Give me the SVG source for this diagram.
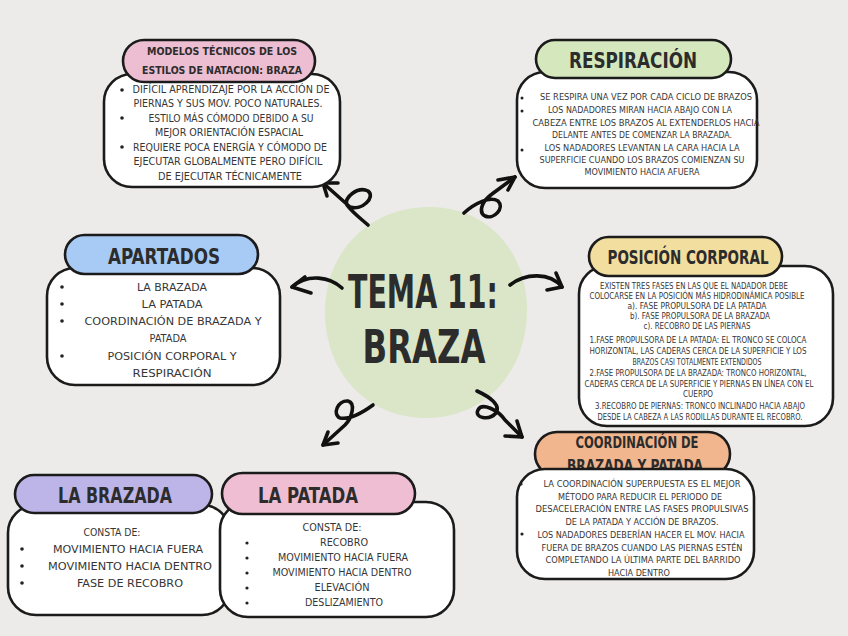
<svg xmlns="http://www.w3.org/2000/svg" width="848" height="636" viewBox="0 0 848 636">
<defs>
<style>
.bg{fill:#ECEBE9}
.body{fill:#ffffff;stroke:#1b1b1b;stroke-width:2.6}
.hdr{stroke:#1b1b1b;stroke-width:2.6}
.t{font-family:"DejaVu Sans Condensed","Liberation Sans",sans-serif;font-stretch:condensed;fill:#363636;text-anchor:middle}
.h{font-family:"DejaVu Sans Condensed","Liberation Sans",sans-serif;font-stretch:condensed;font-weight:bold;fill:#2c2c2c;text-anchor:middle}
.b{fill:#222}
.arr{fill:none;stroke:#111;stroke-width:3.6;stroke-linecap:round;stroke-linejoin:round}
</style>
</defs>
<rect class="bg" x="0" y="0" width="848" height="636"/>

<g id="center">
<path d="M426,207 C485,205 528,250 527,312 C526,372 485,419 424,418 C366,417 325,372 325,312 C325,252 368,209 426,207 Z" fill="#DAE6C7"/>
<text class="h" x="423" y="308" font-size="46" textLength="150" lengthAdjust="spacingAndGlyphs">TEMA 11:</text>
<text class="h" x="424" y="363" font-size="46" textLength="123" lengthAdjust="spacingAndGlyphs">BRAZA</text>
</g>

<g id="connectors">
<path class="arr" d="M368,225 C360,218 352,212 347,205 C343,198 358,186 368,191 C376,197 362,211 350,207 L323,183"/>
<path class="arr" d="M323,183 L338,183 M323,183 L327,196"/>
<path class="arr" d="M464,213 C475,203 490,196 498,201 C505,208 494,220 485,216 C478,212 482,201 492,194 L515,177"/>
<path class="arr" d="M515,177 L498,180 M515,177 L508,190"/>
<path class="arr" d="M342,288 C330,277 308,273 292,287"/>
<path class="arr" d="M292,287 L305,277 M292,287 L311,293"/>
<path class="arr" d="M510,285 C525,273 550,272 562,287"/>
<path class="arr" d="M562,287 L556,273 M562,287 L547,290"/>
<path class="arr" d="M373,405 C362,413 350,420 340,418 C332,414 338,400 348,401 C356,403 352,418 345,425 L323,445"/>
<path class="arr" d="M323,445 L338,443 M323,445 L328,432"/>
<path class="arr" d="M477,391 C490,397 501,405 496,413 C489,421 474,418 478,410 C482,402 498,410 505,420 L522,437"/>
<path class="arr" d="M522,437 L517,421 M522,437 L505,436"/>
</g>

<g id="modelos">
<rect class="body" x="104" y="74" width="236" height="113" rx="28"/>
<rect class="hdr" x="123" y="40" width="192" height="42" rx="21" fill="#EDBED2"/>
<text class="h" x="222" y="55" font-size="10.5" textLength="150" lengthAdjust="spacingAndGlyphs">MODELOS TÉCNICOS DE LOS</text>
<text class="h" x="222" y="74" font-size="10.5" textLength="160" lengthAdjust="spacingAndGlyphs">ESTILOS DE NATACION: BRAZA</text>
<circle class="b" cx="122" cy="90" r="1.8"/>
<circle class="b" cx="122" cy="118" r="1.8"/>
<circle class="b" cx="122" cy="147" r="1.8"/>
<text class="t" x="231" y="93" font-size="10" textLength="197" lengthAdjust="spacingAndGlyphs">DIFÍCIL APRENDIZAJE POR LA ACCIÓN DE</text>
<text class="t" x="228" y="107" font-size="10" textLength="189" lengthAdjust="spacingAndGlyphs">PIERNAS Y SUS MOV. POCO NATURALES.</text>
<text class="t" x="231" y="122" font-size="10" textLength="165" lengthAdjust="spacingAndGlyphs">ESTILO MÁS CÓMODO DEBIDO A SU</text>
<text class="t" x="229" y="136" font-size="10" textLength="148" lengthAdjust="spacingAndGlyphs">MEJOR ORIENTACIÓN ESPACIAL</text>
<text class="t" x="230" y="151" font-size="10" textLength="194" lengthAdjust="spacingAndGlyphs">REQUIERE POCA ENERGÍA Y CÓMODO DE</text>
<text class="t" x="228" y="165" font-size="10" textLength="189" lengthAdjust="spacingAndGlyphs">EJECUTAR GLOBALMENTE PERO DIFÍCIL</text>
<text class="t" x="230" y="180" font-size="10" textLength="144" lengthAdjust="spacingAndGlyphs">DE EJECUTAR TÉCNICAMENTE</text>
</g>

<g id="respiracion">
<rect class="body" x="517" y="72" width="240" height="116" rx="28"/>
<rect class="hdr" x="536" y="40" width="195" height="38" rx="19" fill="#D5E7BC"/>
<text class="h" x="633" y="68" font-size="22" textLength="128" lengthAdjust="spacingAndGlyphs">RESPIRACIÓN</text>
<circle class="b" cx="522" cy="98" r="1.5"/>
<circle class="b" cx="522" cy="111" r="1.5"/>
<circle class="b" cx="522" cy="150" r="1.5"/>
<text class="t" x="646" y="100" font-size="9" textLength="212" lengthAdjust="spacingAndGlyphs">SE RESPIRA UNA VEZ POR CADA CICLO DE BRAZOS</text>
<text class="t" x="640" y="113" font-size="9" textLength="184" lengthAdjust="spacingAndGlyphs">LOS NADADORES MIRAN HACIA ABAJO CON LA</text>
<text class="t" x="646" y="126" font-size="9" textLength="227" lengthAdjust="spacingAndGlyphs">CABEZA ENTRE LOS BRAZOS AL EXTENDERLOS HACIA</text>
<text class="t" x="642" y="138" font-size="9" textLength="180" lengthAdjust="spacingAndGlyphs">DELANTE ANTES DE COMENZAR LA BRAZADA.</text>
<text class="t" x="642" y="151" font-size="9" textLength="195" lengthAdjust="spacingAndGlyphs">LOS NADADORES LEVANTAN LA CARA HACIA LA</text>
<text class="t" x="642" y="163" font-size="9" textLength="205" lengthAdjust="spacingAndGlyphs">SUPERFICIE CUANDO LOS BRAZOS COMIENZAN SU</text>
<text class="t" x="642" y="175" font-size="9" textLength="115" lengthAdjust="spacingAndGlyphs">MOVIMIENTO HACIA AFUERA</text>
</g>

<g id="posicion">
<rect class="body" x="579" y="266" width="254" height="160" rx="28"/>
<rect class="hdr" x="589" y="237" width="193" height="39" rx="19.5" fill="#F2DE9E"/>
<text class="h" x="688" y="264" font-size="20" textLength="161" lengthAdjust="spacingAndGlyphs">POSICIÓN CORPORAL</text>
<text class="t" x="694" y="289" font-size="8" textLength="188" lengthAdjust="spacingAndGlyphs">EXISTEN TRES FASES EN LAS QUE EL NADADOR DEBE</text>
<text class="t" x="697" y="299" font-size="8" textLength="215" lengthAdjust="spacingAndGlyphs">COLOCARSE EN LA POSICIÓN MÁS HIDRODINÁMICA POSIBLE</text>
<text class="t" x="697" y="309" font-size="8" textLength="139" lengthAdjust="spacingAndGlyphs">a). FASE PROPULSORA DE LA PATADA</text>
<text class="t" x="700" y="319" font-size="8" textLength="140" lengthAdjust="spacingAndGlyphs">b). FASE PROPULSORA DE LA BRAZADA</text>
<text class="t" x="697" y="329" font-size="8" textLength="107" lengthAdjust="spacingAndGlyphs">c). RECOBRO DE LAS PIERNAS</text>
<text class="t" x="698" y="343" font-size="8" textLength="217" lengthAdjust="spacingAndGlyphs">1.FASE PROPULSORA DE LA PATADA: EL TRONCO SE COLOCA</text>
<text class="t" x="698" y="354" font-size="8" textLength="217" lengthAdjust="spacingAndGlyphs">HORIZONTAL, LAS CADERAS CERCA DE LA SUPERFICIE Y LOS</text>
<text class="t" x="697" y="365" font-size="8" textLength="129" lengthAdjust="spacingAndGlyphs">BRAZOS CASI TOTALMENTE EXTENDIDOS</text>
<text class="t" x="698" y="376" font-size="8" textLength="217" lengthAdjust="spacingAndGlyphs">2.FASE PROPULSORA DE LA BRAZADA: TRONCO HORIZONTAL,</text>
<text class="t" x="699" y="387" font-size="8" textLength="229" lengthAdjust="spacingAndGlyphs">CADERAS CERCA DE LA SUPERFICIE Y PIERNAS EN LÍNEA CON EL</text>
<text class="t" x="698" y="397" font-size="8" textLength="30" lengthAdjust="spacingAndGlyphs">CUERPO</text>
<text class="t" x="700" y="409" font-size="8" textLength="210" lengthAdjust="spacingAndGlyphs">3.RECOBRO DE PIERNAS: TRONCO INCLINADO HACIA ABAJO</text>
<text class="t" x="700" y="420" font-size="8" textLength="205" lengthAdjust="spacingAndGlyphs">DESDE LA CABEZA A LAS RODILLAS DURANTE EL RECOBRO.</text>
</g>

<g id="coordinacion">
<rect class="hdr" x="535" y="432" width="195" height="44" rx="22" fill="#F2B68E"/>
<text class="h" x="637" y="448" font-size="16" textLength="123" lengthAdjust="spacingAndGlyphs">COORDINACIÓN DE</text>
<text class="h" x="635" y="471" font-size="16" textLength="136" lengthAdjust="spacingAndGlyphs">BRAZADA Y PATADA</text>
<rect class="body" x="517" y="469" width="237" height="110" rx="28"/>
<circle class="b" cx="521" cy="484" r="1.6"/>
<circle class="b" cx="522" cy="534" r="1.6"/>
<text class="t" x="642" y="487" font-size="9.5" textLength="197" lengthAdjust="spacingAndGlyphs">LA COORDINACIÓN SUPERPUESTA ES EL MEJOR</text>
<text class="t" x="640" y="500" font-size="9.5" textLength="164" lengthAdjust="spacingAndGlyphs">MÉTODO PARA REDUCIR EL PERIODO DE</text>
<text class="t" x="642" y="512" font-size="9.5" textLength="213" lengthAdjust="spacingAndGlyphs">DESACELERACIÓN ENTRE LAS FASES PROPULSIVAS</text>
<text class="t" x="642" y="525" font-size="9.5" textLength="153" lengthAdjust="spacingAndGlyphs">DE LA PATADA Y ACCIÓN DE BRAZOS.</text>
<text class="t" x="641" y="538" font-size="9.5" textLength="207" lengthAdjust="spacingAndGlyphs">LOS NADADORES DEBERÍAN HACER EL MOV. HACIA</text>
<text class="t" x="642" y="551" font-size="9.5" textLength="201" lengthAdjust="spacingAndGlyphs">FUERA DE BRAZOS CUANDO LAS PIERNAS ESTÉN</text>
<text class="t" x="643" y="563" font-size="9.5" textLength="195" lengthAdjust="spacingAndGlyphs">COMPLETANDO LA ÚLTIMA PARTE DEL BARRIDO</text>
<text class="t" x="639" y="576" font-size="9.5" textLength="62" lengthAdjust="spacingAndGlyphs">HACIA DENTRO</text>
</g>

<g id="apartados">
<rect class="body" x="47" y="268" width="233" height="117" rx="28"/>
<rect class="hdr" x="65" y="235" width="193" height="39" rx="19.5" fill="#A8CBF5"/>
<text class="h" x="164" y="264" font-size="22" textLength="112" lengthAdjust="spacingAndGlyphs">APARTADOS</text>
<circle class="b" cx="62" cy="287" r="1.8"/>
<circle class="b" cx="62" cy="304" r="1.8"/>
<circle class="b" cx="62" cy="321" r="1.8"/>
<circle class="b" cx="62" cy="356" r="1.8"/>
<text class="t" x="172" y="291" font-size="11" textLength="70" lengthAdjust="spacingAndGlyphs">LA BRAZADA</text>
<text class="t" x="172" y="308" font-size="11" textLength="61" lengthAdjust="spacingAndGlyphs">LA PATADA</text>
<text class="t" x="173" y="325" font-size="11" textLength="177" lengthAdjust="spacingAndGlyphs">COORDINACIÓN DE BRAZADA Y</text>
<text class="t" x="168" y="342" font-size="11" textLength="37" lengthAdjust="spacingAndGlyphs">PATADA</text>
<text class="t" x="172" y="360" font-size="11" textLength="129" lengthAdjust="spacingAndGlyphs">POSICIÓN CORPORAL Y</text>
<text class="t" x="172" y="377" font-size="11" textLength="79" lengthAdjust="spacingAndGlyphs">RESPIRACIÓN</text>
</g>

<g id="labrazada">
<rect class="body" x="8" y="505" width="222" height="110" rx="28"/>
<rect class="hdr" x="15" y="475" width="197" height="38" rx="19" fill="#BDB5E7"/>
<text class="h" x="115" y="503" font-size="22" textLength="114" lengthAdjust="spacingAndGlyphs">LA BRAZADA</text>
<circle class="b" cx="22" cy="549" r="1.8"/>
<circle class="b" cx="22" cy="566" r="1.8"/>
<circle class="b" cx="22" cy="583" r="1.8"/>
<text class="t" x="112" y="536" font-size="11" textLength="57" lengthAdjust="spacingAndGlyphs">CONSTA DE:</text>
<text class="t" x="128" y="553" font-size="11" textLength="150" lengthAdjust="spacingAndGlyphs">MOVIMIENTO HACIA FUERA</text>
<text class="t" x="130" y="570" font-size="11" textLength="164" lengthAdjust="spacingAndGlyphs">MOVIMIENTO HACIA DENTRO</text>
<text class="t" x="130" y="587" font-size="11" textLength="106" lengthAdjust="spacingAndGlyphs">FASE DE RECOBRO</text>
</g>

<g id="lapatada">
<rect class="body" x="220" y="502" width="234" height="115" rx="28"/>
<rect class="hdr" x="222" y="473" width="193" height="41" rx="20.5" fill="#EFBED2"/>
<text class="h" x="308" y="503" font-size="22" textLength="100" lengthAdjust="spacingAndGlyphs">LA PATADA</text>
<circle class="b" cx="247" cy="543" r="1.6"/>
<circle class="b" cx="247" cy="558" r="1.6"/>
<circle class="b" cx="247" cy="573" r="1.6"/>
<circle class="b" cx="247" cy="588" r="1.6"/>
<circle class="b" cx="247" cy="603" r="1.6"/>
<text class="t" x="332" y="531" font-size="10" textLength="59" lengthAdjust="spacingAndGlyphs">CONSTA DE:</text>
<text class="t" x="344" y="546" font-size="10" textLength="48" lengthAdjust="spacingAndGlyphs">RECOBRO</text>
<text class="t" x="343" y="561" font-size="10" textLength="130" lengthAdjust="spacingAndGlyphs">MOVIMIENTO HACIA FUERA</text>
<text class="t" x="342" y="576" font-size="10" textLength="139" lengthAdjust="spacingAndGlyphs">MOVIMIENTO HACIA DENTRO</text>
<text class="t" x="342" y="591" font-size="10" textLength="55" lengthAdjust="spacingAndGlyphs">ELEVACIÓN</text>
<text class="t" x="344" y="606" font-size="10" textLength="78" lengthAdjust="spacingAndGlyphs">DESLIZAMIENTO</text>
</g>
</svg>
